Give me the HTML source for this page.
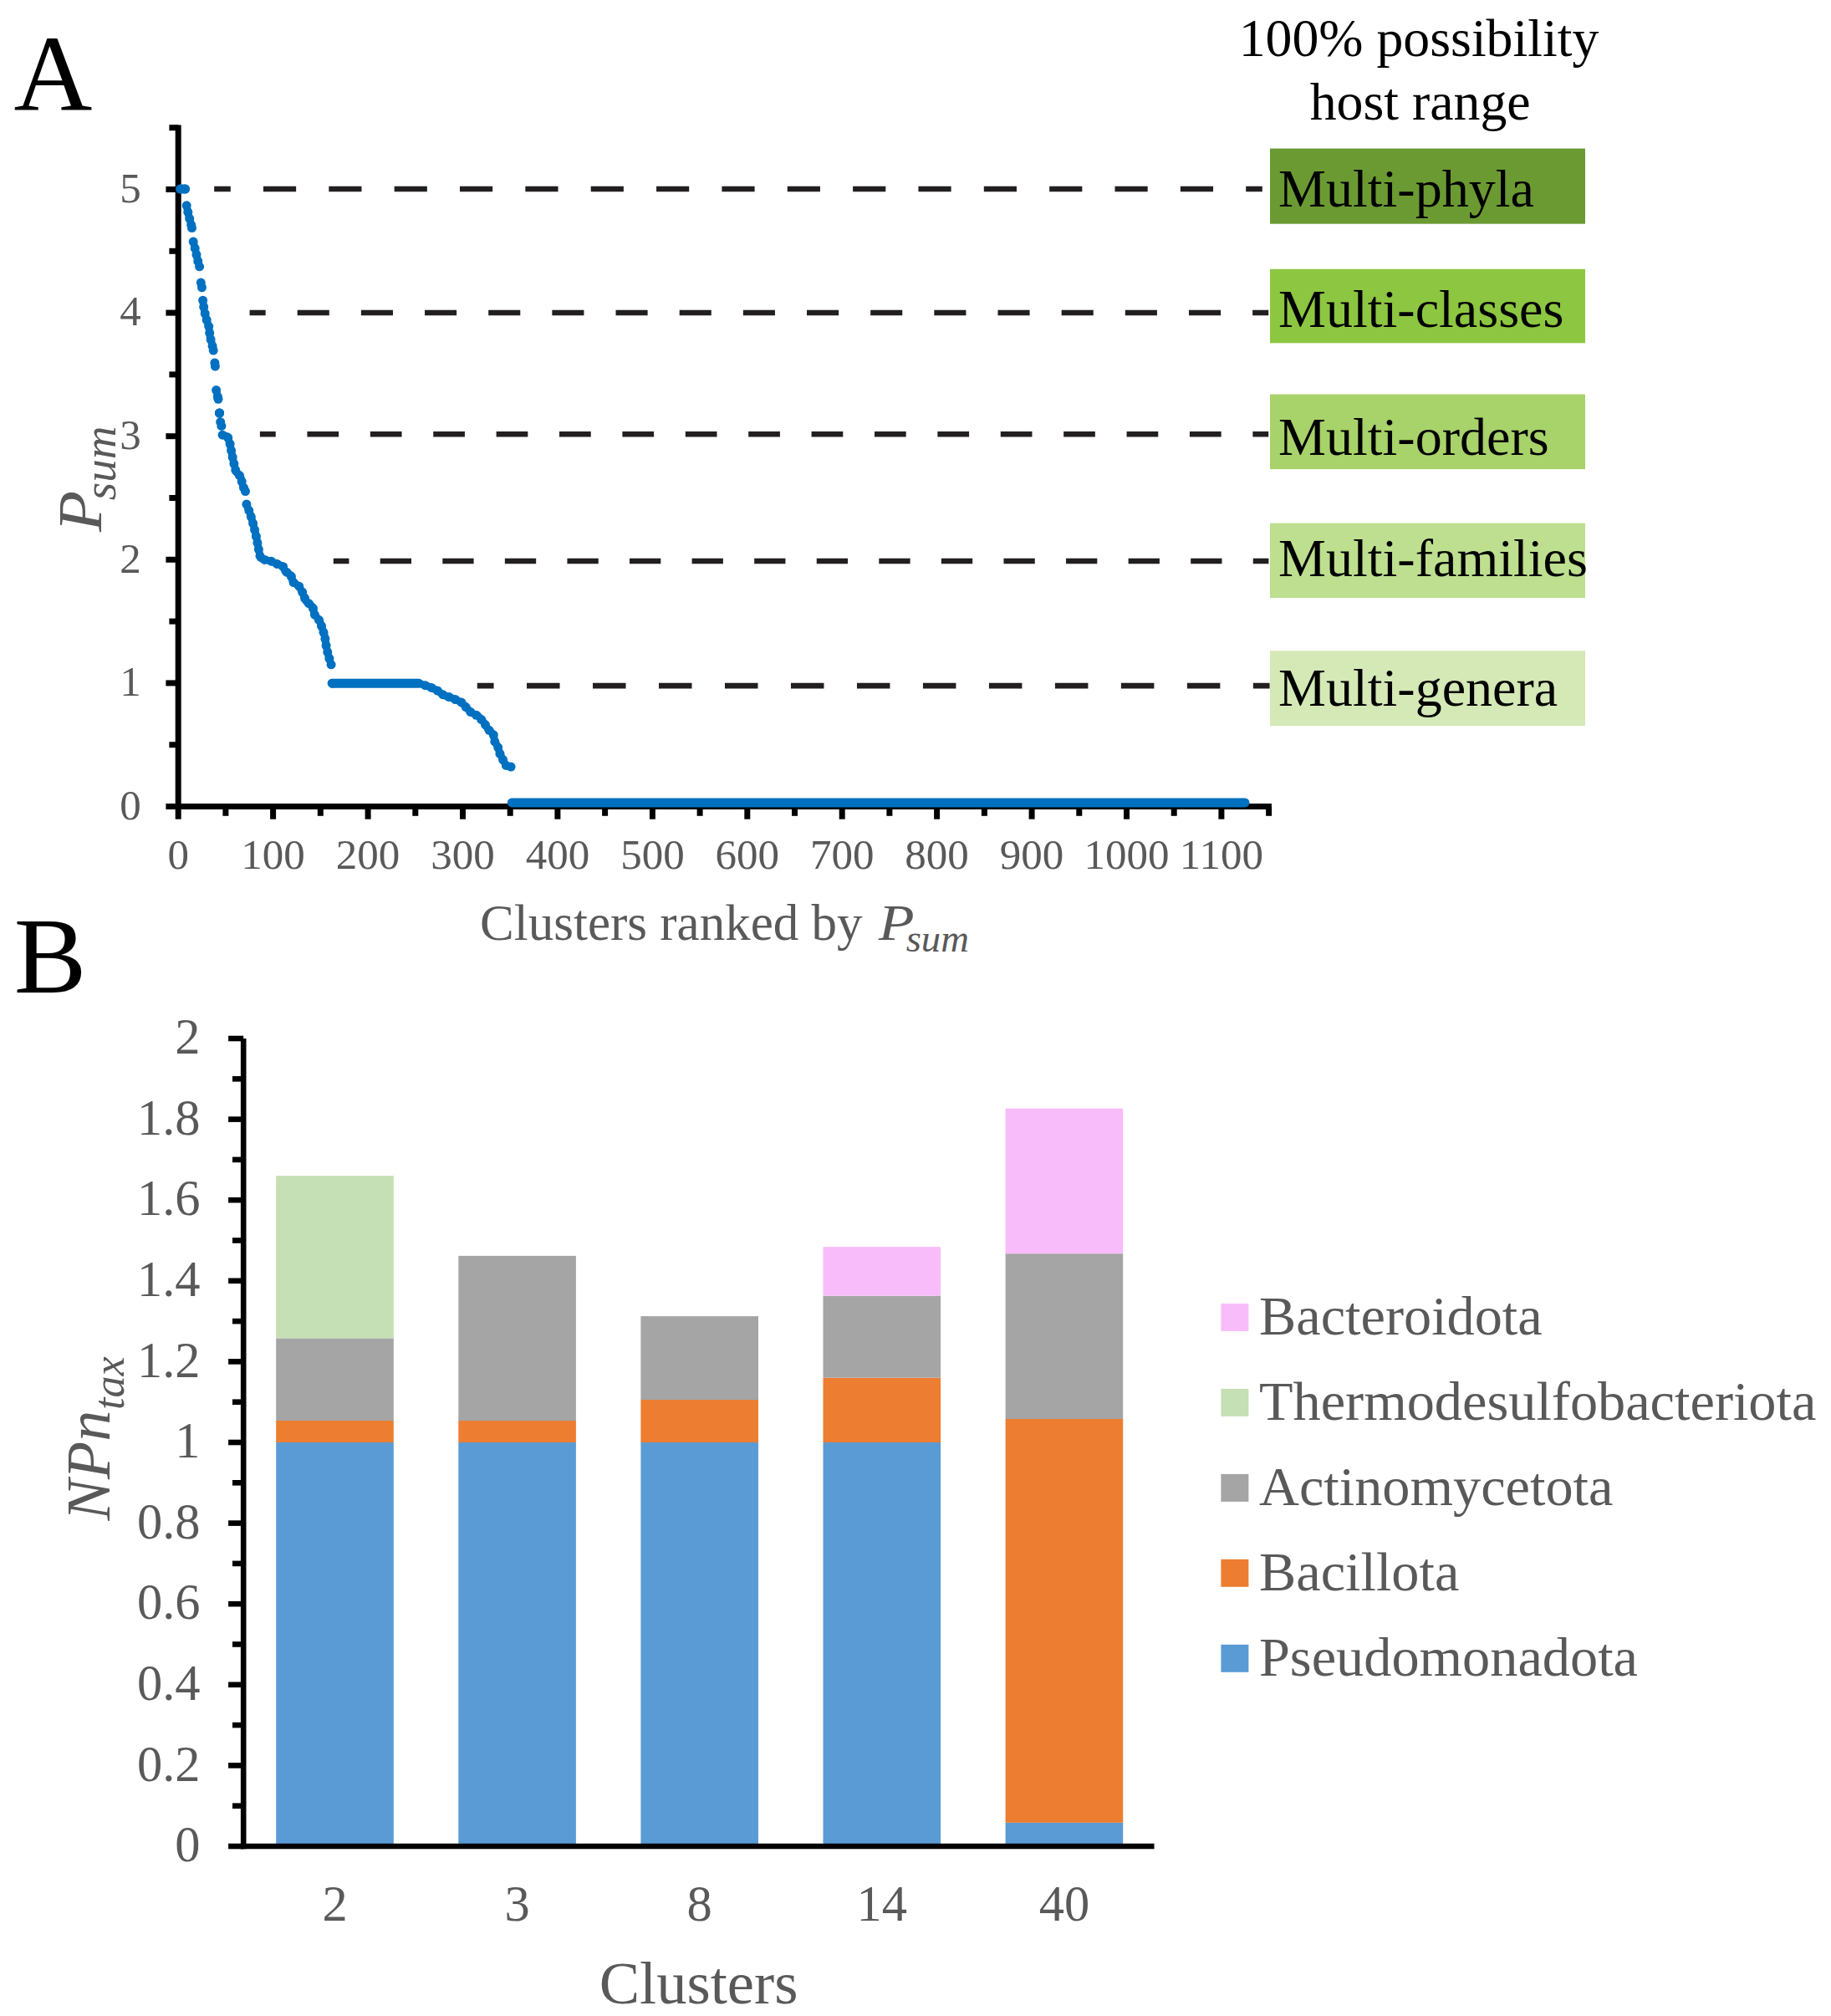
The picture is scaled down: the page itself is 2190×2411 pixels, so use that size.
<!DOCTYPE html>
<html><head><meta charset="utf-8"><title>Figure</title>
<style>
html,body{margin:0;padding:0;background:#fff;}
svg{display:block;}
text{font-family:'Liberation Serif','Times New Roman',serif;}
</style></head>
<body>
<svg width="2190" height="2411" viewBox="0 0 2190 2411">
<rect width="2190" height="2411" fill="#fff"/>
<text x="16.45" y="132.1" font-size="130" fill="#000">A</text>
<line x1="213.2" y1="149.4" x2="213.2" y2="967.8" stroke="#000" stroke-width="7"/>
<line x1="209.9" y1="964.5" x2="1520.9" y2="964.5" stroke="#000" stroke-width="7"/>
<line x1="198.4" y1="964.5" x2="213.2" y2="964.5" stroke="#000" stroke-width="7"/>
<line x1="202.4" y1="890.7" x2="213.2" y2="890.7" stroke="#000" stroke-width="7"/>
<line x1="198.4" y1="816.9" x2="213.2" y2="816.9" stroke="#000" stroke-width="7"/>
<line x1="202.4" y1="743.1" x2="213.2" y2="743.1" stroke="#000" stroke-width="7"/>
<line x1="198.4" y1="669.3" x2="213.2" y2="669.3" stroke="#000" stroke-width="7"/>
<line x1="202.4" y1="595.5" x2="213.2" y2="595.5" stroke="#000" stroke-width="7"/>
<line x1="198.4" y1="521.7" x2="213.2" y2="521.7" stroke="#000" stroke-width="7"/>
<line x1="202.4" y1="447.9" x2="213.2" y2="447.9" stroke="#000" stroke-width="7"/>
<line x1="198.4" y1="374.1" x2="213.2" y2="374.1" stroke="#000" stroke-width="7"/>
<line x1="202.4" y1="300.3" x2="213.2" y2="300.3" stroke="#000" stroke-width="7"/>
<line x1="198.4" y1="226.5" x2="213.2" y2="226.5" stroke="#000" stroke-width="7"/>
<line x1="202.4" y1="152.7" x2="213.2" y2="152.7" stroke="#000" stroke-width="7"/>
<line x1="213.2" y1="964.5" x2="213.2" y2="979.7" stroke="#000" stroke-width="7"/>
<line x1="269.9" y1="964.5" x2="269.9" y2="975.8" stroke="#000" stroke-width="7"/>
<line x1="326.6" y1="964.5" x2="326.6" y2="979.7" stroke="#000" stroke-width="7"/>
<line x1="383.3" y1="964.5" x2="383.3" y2="975.8" stroke="#000" stroke-width="7"/>
<line x1="440.1" y1="964.5" x2="440.1" y2="979.7" stroke="#000" stroke-width="7"/>
<line x1="496.8" y1="964.5" x2="496.8" y2="975.8" stroke="#000" stroke-width="7"/>
<line x1="553.5" y1="964.5" x2="553.5" y2="979.7" stroke="#000" stroke-width="7"/>
<line x1="610.2" y1="964.5" x2="610.2" y2="975.8" stroke="#000" stroke-width="7"/>
<line x1="666.9" y1="964.5" x2="666.9" y2="979.7" stroke="#000" stroke-width="7"/>
<line x1="723.6" y1="964.5" x2="723.6" y2="975.8" stroke="#000" stroke-width="7"/>
<line x1="780.4" y1="964.5" x2="780.4" y2="979.7" stroke="#000" stroke-width="7"/>
<line x1="837.1" y1="964.5" x2="837.1" y2="975.8" stroke="#000" stroke-width="7"/>
<line x1="893.8" y1="964.5" x2="893.8" y2="979.7" stroke="#000" stroke-width="7"/>
<line x1="950.5" y1="964.5" x2="950.5" y2="975.8" stroke="#000" stroke-width="7"/>
<line x1="1007.2" y1="964.5" x2="1007.2" y2="979.7" stroke="#000" stroke-width="7"/>
<line x1="1063.9" y1="964.5" x2="1063.9" y2="975.8" stroke="#000" stroke-width="7"/>
<line x1="1120.6" y1="964.5" x2="1120.6" y2="979.7" stroke="#000" stroke-width="7"/>
<line x1="1177.4" y1="964.5" x2="1177.4" y2="975.8" stroke="#000" stroke-width="7"/>
<line x1="1234.1" y1="964.5" x2="1234.1" y2="979.7" stroke="#000" stroke-width="7"/>
<line x1="1290.8" y1="964.5" x2="1290.8" y2="975.8" stroke="#000" stroke-width="7"/>
<line x1="1347.5" y1="964.5" x2="1347.5" y2="979.7" stroke="#000" stroke-width="7"/>
<line x1="1404.2" y1="964.5" x2="1404.2" y2="975.8" stroke="#000" stroke-width="7"/>
<line x1="1460.9" y1="964.5" x2="1460.9" y2="979.7" stroke="#000" stroke-width="7"/>
<line x1="1517.6" y1="964.5" x2="1517.6" y2="975.8" stroke="#000" stroke-width="7"/>
<text x="168.8" y="979.7" font-size="51" fill="#595959" text-anchor="end">0</text>
<text x="168.8" y="832.1" font-size="51" fill="#595959" text-anchor="end">1</text>
<text x="168.8" y="684.5" font-size="51" fill="#595959" text-anchor="end">2</text>
<text x="168.8" y="536.9" font-size="51" fill="#595959" text-anchor="end">3</text>
<text x="168.8" y="389.3" font-size="51" fill="#595959" text-anchor="end">4</text>
<text x="168.8" y="241.7" font-size="51" fill="#595959" text-anchor="end">5</text>
<text x="213.2" y="1039" font-size="51" fill="#595959" text-anchor="middle">0</text>
<text x="326.6" y="1039" font-size="51" fill="#595959" text-anchor="middle">100</text>
<text x="440.1" y="1039" font-size="51" fill="#595959" text-anchor="middle">200</text>
<text x="553.5" y="1039" font-size="51" fill="#595959" text-anchor="middle">300</text>
<text x="666.9" y="1039" font-size="51" fill="#595959" text-anchor="middle">400</text>
<text x="780.4" y="1039" font-size="51" fill="#595959" text-anchor="middle">500</text>
<text x="893.8" y="1039" font-size="51" fill="#595959" text-anchor="middle">600</text>
<text x="1007.2" y="1039" font-size="51" fill="#595959" text-anchor="middle">700</text>
<text x="1120.6" y="1039" font-size="51" fill="#595959" text-anchor="middle">800</text>
<text x="1234.1" y="1039" font-size="51" fill="#595959" text-anchor="middle">900</text>
<text x="1347.5" y="1039" font-size="51" fill="#595959" text-anchor="middle">1000</text>
<text x="1460.9" y="1039" font-size="51" fill="#595959" text-anchor="middle">1100</text>
<text x="574.1" y="1124" font-size="61" fill="#595959">Clusters ranked by </text>
<text transform="translate(1050.8,1124) scale(1.15,1)" font-size="61" fill="#595959" font-style="italic">P</text>
<text x="1083.7" y="1138" font-size="46.7" fill="#595959" font-style="italic">sum</text>
<text transform="translate(121.4,636) rotate(-90) scale(1.1,1)" font-size="73" fill="#595959" font-style="italic">P</text>
<text transform="translate(137.8,598.2) rotate(-90)" font-size="55" fill="#595959" font-style="italic">sum</text>
<line x1="256.2" y1="226.0" x2="1509.8" y2="226.0" stroke="#231f20" stroke-width="6.6" stroke-dasharray="39.175 39.175" stroke-dashoffset="19.587"/>
<line x1="298.6" y1="374.0" x2="1517.2" y2="374.0" stroke="#231f20" stroke-width="6.6" stroke-dasharray="38.081 38.081" stroke-dashoffset="19.041"/>
<line x1="310.9" y1="519.2" x2="1517.2" y2="519.2" stroke="#231f20" stroke-width="6.6" stroke-dasharray="37.697 37.697" stroke-dashoffset="18.848"/>
<line x1="398.8" y1="671.0" x2="1517.4" y2="671.0" stroke="#231f20" stroke-width="6.6" stroke-dasharray="37.287 37.287" stroke-dashoffset="18.643"/>
<line x1="570.8" y1="820.1" x2="1518.6" y2="820.1" stroke="#231f20" stroke-width="6.6" stroke-dasharray="39.492 39.492" stroke-dashoffset="19.746"/>
<text x="1697" y="66.7" font-size="63.8" fill="#000" text-anchor="middle">100% possibility</text>
<text x="1698.7" y="142.7" font-size="63.8" fill="#000" text-anchor="middle">host range</text>
<rect x="1519" y="177.6" width="377" height="90.1" fill="#6b9a33"/>
<text x="1529.1" y="246.8" font-size="64" fill="#000">Multi-phyla</text>
<rect x="1519" y="321.8" width="377" height="88.5" fill="#8dc641"/>
<text x="1529.1" y="390.8" font-size="64" fill="#000">Multi-classes</text>
<rect x="1519" y="471.6" width="377" height="89.5" fill="#a8d26a"/>
<text x="1529.1" y="544.2" font-size="64" fill="#000">Multi-orders</text>
<rect x="1519" y="625.6" width="377" height="89.5" fill="#bddf8f"/>
<text x="1529.1" y="689.2" font-size="64" fill="#000">Multi-families</text>
<rect x="1519" y="778.3" width="377" height="89.8" fill="#d4e9b6"/>
<text x="1529.1" y="843.6" font-size="64" fill="#000">Multi-genera</text>
<polyline points="215.8,226.1 221.5,226.1" fill="none" stroke="#0070c0" stroke-width="8.8" stroke-linecap="round" stroke-linejoin="round"/>
<line x1="215.8" y1="226.1" x2="221.5" y2="226.1" stroke="#0070c0" stroke-width="11" stroke-linecap="round"/>
<circle cx="215.8" cy="226.1" r="5.5" fill="#0070c0"/>
<circle cx="221.5" cy="226.1" r="5.5" fill="#0070c0"/>
<polyline points="223.2,245.8 225.5,257.2 227.8,265.2 229.5,272.6" fill="none" stroke="#0070c0" stroke-width="8.8" stroke-linecap="round" stroke-linejoin="round"/>
<circle cx="223.2" cy="245.8" r="5.5" fill="#0070c0"/>
<circle cx="224.8" cy="253.6" r="5.5" fill="#0070c0"/>
<circle cx="226.7" cy="261.4" r="5.5" fill="#0070c0"/>
<circle cx="228.7" cy="269.1" r="5.5" fill="#0070c0"/>
<circle cx="229.5" cy="272.6" r="5.5" fill="#0070c0"/>
<polyline points="231.2,289.1 233.5,298.2 236.4,310.8 238.6,318.8" fill="none" stroke="#0070c0" stroke-width="8.8" stroke-linecap="round" stroke-linejoin="round"/>
<circle cx="231.2" cy="289.1" r="5.5" fill="#0070c0"/>
<circle cx="233.2" cy="296.9" r="5.5" fill="#0070c0"/>
<circle cx="235.0" cy="304.6" r="5.5" fill="#0070c0"/>
<circle cx="236.8" cy="312.4" r="5.5" fill="#0070c0"/>
<circle cx="238.6" cy="318.8" r="5.5" fill="#0070c0"/>
<polyline points="240.3,338.1 241.5,343.8" fill="none" stroke="#0070c0" stroke-width="8.8" stroke-linecap="round" stroke-linejoin="round"/>
<circle cx="240.3" cy="338.1" r="5.5" fill="#0070c0"/>
<circle cx="241.5" cy="343.8" r="5.5" fill="#0070c0"/>
<polyline points="242.6,359.2 244.3,371.2 247.3,383.3 249.8,390.6 251.2,403 253.5,411 255.2,419.1" fill="none" stroke="#0070c0" stroke-width="8.8" stroke-linecap="round" stroke-linejoin="round"/>
<circle cx="242.6" cy="359.2" r="5.5" fill="#0070c0"/>
<circle cx="243.7" cy="367.1" r="5.5" fill="#0070c0"/>
<circle cx="245.2" cy="375.0" r="5.5" fill="#0070c0"/>
<circle cx="247.2" cy="382.7" r="5.5" fill="#0070c0"/>
<circle cx="249.7" cy="390.3" r="5.5" fill="#0070c0"/>
<circle cx="250.7" cy="398.2" r="5.5" fill="#0070c0"/>
<circle cx="252.1" cy="406.1" r="5.5" fill="#0070c0"/>
<circle cx="254.1" cy="413.8" r="5.5" fill="#0070c0"/>
<circle cx="255.2" cy="419.1" r="5.5" fill="#0070c0"/>
<polyline points="256.9,433.9 257.4,438" fill="none" stroke="#0070c0" stroke-width="8.8" stroke-linecap="round" stroke-linejoin="round"/>
<circle cx="256.9" cy="433.9" r="5.5" fill="#0070c0"/>
<circle cx="257.4" cy="438.0" r="5.5" fill="#0070c0"/>
<polyline points="258.6,466.6 261,477.3" fill="none" stroke="#0070c0" stroke-width="8.8" stroke-linecap="round" stroke-linejoin="round"/>
<circle cx="258.6" cy="466.6" r="5.5" fill="#0070c0"/>
<circle cx="260.4" cy="474.4" r="5.5" fill="#0070c0"/>
<circle cx="261.0" cy="477.3" r="5.5" fill="#0070c0"/>
<polyline points="262.5,494 262.5,494" fill="none" stroke="#0070c0" stroke-width="8.8" stroke-linecap="round" stroke-linejoin="round"/>
<line x1="262.5" y1="494" x2="262.5" y2="494" stroke="#0070c0" stroke-width="11" stroke-linecap="round"/>
<circle cx="262.5" cy="494.0" r="5.5" fill="#0070c0"/>
<circle cx="262.5" cy="494.0" r="5.5" fill="#0070c0"/>
<polyline points="263.7,504.7 264.9,509.4" fill="none" stroke="#0070c0" stroke-width="8.8" stroke-linecap="round" stroke-linejoin="round"/>
<circle cx="263.7" cy="504.7" r="5.5" fill="#0070c0"/>
<circle cx="264.9" cy="509.4" r="5.5" fill="#0070c0"/>
<polyline points="266.1,520.2 272.1,521.7 275.2,531.3 276.8,540 279.2,551.9 282.4,564.6 287.9,570.2 290.3,580.5 293.5,587.6" fill="none" stroke="#0070c0" stroke-width="8.8" stroke-linecap="round" stroke-linejoin="round"/>
<circle cx="266.1" cy="520.2" r="5.5" fill="#0070c0"/>
<circle cx="272.7" cy="523.4" r="5.5" fill="#0070c0"/>
<circle cx="275.1" cy="531.0" r="5.5" fill="#0070c0"/>
<circle cx="276.6" cy="538.9" r="5.5" fill="#0070c0"/>
<circle cx="278.2" cy="546.7" r="5.5" fill="#0070c0"/>
<circle cx="279.9" cy="554.6" r="5.5" fill="#0070c0"/>
<circle cx="281.8" cy="562.3" r="5.5" fill="#0070c0"/>
<circle cx="286.4" cy="568.6" r="5.5" fill="#0070c0"/>
<circle cx="289.2" cy="575.8" r="5.5" fill="#0070c0"/>
<circle cx="291.6" cy="583.4" r="5.5" fill="#0070c0"/>
<circle cx="293.5" cy="587.6" r="5.5" fill="#0070c0"/>
<polyline points="294.9,603.1 299,613.8 302.6,625.7 305.6,637.6 308,649.5 309.8,659 311.5,667.4 315.7,669.2 324,671 331.2,674.5 338.3,676.9 340.7,682.9 347.9,687.6 350.2,696 357.4,700.7 362.1,709 365.7,718.6 374,725.7 376.4,735.2 382.4,742.4 384.8,749.5 388.3,760.2 390.1,772.1 392.5,782.9 396.1,794.8" fill="none" stroke="#0070c0" stroke-width="8.8" stroke-linecap="round" stroke-linejoin="round"/>
<circle cx="294.9" cy="603.1" r="5.5" fill="#0070c0"/>
<circle cx="297.8" cy="610.6" r="5.5" fill="#0070c0"/>
<circle cx="300.3" cy="618.1" r="5.5" fill="#0070c0"/>
<circle cx="302.6" cy="625.8" r="5.5" fill="#0070c0"/>
<circle cx="304.6" cy="633.6" r="5.5" fill="#0070c0"/>
<circle cx="306.4" cy="641.4" r="5.5" fill="#0070c0"/>
<circle cx="307.9" cy="649.2" r="5.5" fill="#0070c0"/>
<circle cx="309.4" cy="657.1" r="5.5" fill="#0070c0"/>
<circle cx="311.0" cy="664.9" r="5.5" fill="#0070c0"/>
<circle cx="316.6" cy="669.4" r="5.5" fill="#0070c0"/>
<circle cx="324.4" cy="671.2" r="5.5" fill="#0070c0"/>
<circle cx="331.6" cy="674.6" r="5.5" fill="#0070c0"/>
<circle cx="338.6" cy="677.7" r="5.5" fill="#0070c0"/>
<circle cx="342.7" cy="684.2" r="5.5" fill="#0070c0"/>
<circle cx="348.4" cy="689.4" r="5.5" fill="#0070c0"/>
<circle cx="351.1" cy="696.6" r="5.5" fill="#0070c0"/>
<circle cx="357.7" cy="701.2" r="5.5" fill="#0070c0"/>
<circle cx="361.6" cy="708.1" r="5.5" fill="#0070c0"/>
<circle cx="364.6" cy="715.5" r="5.5" fill="#0070c0"/>
<circle cx="369.3" cy="721.7" r="5.5" fill="#0070c0"/>
<circle cx="374.4" cy="727.5" r="5.5" fill="#0070c0"/>
<circle cx="376.4" cy="735.2" r="5.5" fill="#0070c0"/>
<circle cx="381.5" cy="741.4" r="5.5" fill="#0070c0"/>
<circle cx="384.5" cy="748.7" r="5.5" fill="#0070c0"/>
<circle cx="387.0" cy="756.3" r="5.5" fill="#0070c0"/>
<circle cx="388.9" cy="764.0" r="5.5" fill="#0070c0"/>
<circle cx="390.1" cy="772.0" r="5.5" fill="#0070c0"/>
<circle cx="391.8" cy="779.8" r="5.5" fill="#0070c0"/>
<circle cx="393.9" cy="787.5" r="5.5" fill="#0070c0"/>
<circle cx="396.1" cy="794.8" r="5.5" fill="#0070c0"/>
<polyline points="397.3,817.2 501,817.2 515,821.8 523.7,826.2 530.7,831.5 541.2,835 552.5,840.2 558.6,847.2 563.9,852.4 572.6,856.8 578.7,863.8 584,872.5 590.1,877.8 591.9,887.4 595.3,892.6 598,901.4 601.5,908.4 605,915.3 611.1,917.1" fill="none" stroke="#0070c0" stroke-width="8.8" stroke-linecap="round" stroke-linejoin="round"/>
<line x1="397.3" y1="817.2" x2="501" y2="817.2" stroke="#0070c0" stroke-width="11" stroke-linecap="round"/>
<circle cx="397.3" cy="817.2" r="5.5" fill="#0070c0"/>
<circle cx="508.6" cy="819.7" r="5.5" fill="#0070c0"/>
<circle cx="516.1" cy="822.4" r="5.5" fill="#0070c0"/>
<circle cx="523.3" cy="826.0" r="5.5" fill="#0070c0"/>
<circle cx="529.7" cy="830.7" r="5.5" fill="#0070c0"/>
<circle cx="537.1" cy="833.6" r="5.5" fill="#0070c0"/>
<circle cx="544.5" cy="836.5" r="5.5" fill="#0070c0"/>
<circle cx="551.8" cy="839.9" r="5.5" fill="#0070c0"/>
<circle cx="557.2" cy="845.6" r="5.5" fill="#0070c0"/>
<circle cx="562.8" cy="851.4" r="5.5" fill="#0070c0"/>
<circle cx="569.7" cy="855.3" r="5.5" fill="#0070c0"/>
<circle cx="575.7" cy="860.4" r="5.5" fill="#0070c0"/>
<circle cx="580.5" cy="866.8" r="5.5" fill="#0070c0"/>
<circle cx="585.0" cy="873.3" r="5.5" fill="#0070c0"/>
<circle cx="590.3" cy="879.0" r="5.5" fill="#0070c0"/>
<circle cx="591.8" cy="886.9" r="5.5" fill="#0070c0"/>
<circle cx="595.7" cy="893.8" r="5.5" fill="#0070c0"/>
<circle cx="598.0" cy="901.4" r="5.5" fill="#0070c0"/>
<circle cx="601.6" cy="908.6" r="5.5" fill="#0070c0"/>
<circle cx="605.4" cy="915.4" r="5.5" fill="#0070c0"/>
<circle cx="611.1" cy="917.1" r="5.5" fill="#0070c0"/>
<polyline points="612.3,959.9 1489,959.9" fill="none" stroke="#0070c0" stroke-width="11" stroke-linecap="round" stroke-linejoin="round"/>
<text x="16.7" y="1187" font-size="130" fill="#000">B</text>
<rect x="330.2" y="1725.0" width="140.6" height="483.0" fill="#5b9bd5"/>
<rect x="330.2" y="1699.0" width="140.6" height="26.0" fill="#ed7d31"/>
<rect x="330.2" y="1600.4" width="140.6" height="98.6" fill="#a5a5a5"/>
<rect x="330.2" y="1406.2" width="140.6" height="194.2" fill="#c5e0b4"/>
<rect x="548.3" y="1725.0" width="140.6" height="483.0" fill="#5b9bd5"/>
<rect x="548.3" y="1699.0" width="140.6" height="26.0" fill="#ed7d31"/>
<rect x="548.3" y="1501.9" width="140.6" height="197.2" fill="#a5a5a5"/>
<rect x="766.4" y="1725.0" width="140.6" height="483.0" fill="#5b9bd5"/>
<rect x="766.4" y="1674.0" width="140.6" height="51.0" fill="#ed7d31"/>
<rect x="766.4" y="1574.1" width="140.6" height="100.0" fill="#a5a5a5"/>
<rect x="984.5" y="1725.0" width="140.6" height="483.0" fill="#5b9bd5"/>
<rect x="984.5" y="1647.7" width="140.6" height="77.3" fill="#ed7d31"/>
<rect x="984.5" y="1549.7" width="140.6" height="98.0" fill="#a5a5a5"/>
<rect x="984.5" y="1491.2" width="140.6" height="58.4" fill="#f9bcfb"/>
<rect x="1202.6" y="2179.7" width="140.6" height="28.3" fill="#5b9bd5"/>
<rect x="1202.6" y="1697.0" width="140.6" height="482.8" fill="#ed7d31"/>
<rect x="1202.6" y="1499.2" width="140.6" height="197.8" fill="#a5a5a5"/>
<rect x="1202.6" y="1325.6" width="140.6" height="173.6" fill="#f9bcfb"/>
<line x1="291.2" y1="1242" x2="291.2" y2="2211.3" stroke="#000" stroke-width="6.6"/>
<line x1="287.9" y1="2208" x2="1380.5" y2="2208" stroke="#000" stroke-width="6.6"/>
<line x1="273.1" y1="2208.0" x2="291.2" y2="2208.0" stroke="#000" stroke-width="6.6"/>
<line x1="278" y1="2159.7" x2="291.2" y2="2159.7" stroke="#000" stroke-width="6.6"/>
<line x1="273.1" y1="2111.4" x2="291.2" y2="2111.4" stroke="#000" stroke-width="6.6"/>
<line x1="278" y1="2063.1" x2="291.2" y2="2063.1" stroke="#000" stroke-width="6.6"/>
<line x1="273.1" y1="2014.8" x2="291.2" y2="2014.8" stroke="#000" stroke-width="6.6"/>
<line x1="278" y1="1966.5" x2="291.2" y2="1966.5" stroke="#000" stroke-width="6.6"/>
<line x1="273.1" y1="1918.2" x2="291.2" y2="1918.2" stroke="#000" stroke-width="6.6"/>
<line x1="278" y1="1869.9" x2="291.2" y2="1869.9" stroke="#000" stroke-width="6.6"/>
<line x1="273.1" y1="1821.6" x2="291.2" y2="1821.6" stroke="#000" stroke-width="6.6"/>
<line x1="278" y1="1773.3" x2="291.2" y2="1773.3" stroke="#000" stroke-width="6.6"/>
<line x1="273.1" y1="1725.0" x2="291.2" y2="1725.0" stroke="#000" stroke-width="6.6"/>
<line x1="278" y1="1676.7" x2="291.2" y2="1676.7" stroke="#000" stroke-width="6.6"/>
<line x1="273.1" y1="1628.4" x2="291.2" y2="1628.4" stroke="#000" stroke-width="6.6"/>
<line x1="278" y1="1580.1" x2="291.2" y2="1580.1" stroke="#000" stroke-width="6.6"/>
<line x1="273.1" y1="1531.8" x2="291.2" y2="1531.8" stroke="#000" stroke-width="6.6"/>
<line x1="278" y1="1483.5" x2="291.2" y2="1483.5" stroke="#000" stroke-width="6.6"/>
<line x1="273.1" y1="1435.2" x2="291.2" y2="1435.2" stroke="#000" stroke-width="6.6"/>
<line x1="278" y1="1386.9" x2="291.2" y2="1386.9" stroke="#000" stroke-width="6.6"/>
<line x1="273.1" y1="1338.6" x2="291.2" y2="1338.6" stroke="#000" stroke-width="6.6"/>
<line x1="278" y1="1290.3" x2="291.2" y2="1290.3" stroke="#000" stroke-width="6.6"/>
<line x1="273.1" y1="1242.0" x2="291.2" y2="1242.0" stroke="#000" stroke-width="6.6"/>
<text x="239.6" y="2226.2" font-size="60.5" fill="#595959" text-anchor="end">0</text>
<text x="239.6" y="2129.6" font-size="60.5" fill="#595959" text-anchor="end">0.2</text>
<text x="239.6" y="2033.0" font-size="60.5" fill="#595959" text-anchor="end">0.4</text>
<text x="239.6" y="1936.4" font-size="60.5" fill="#595959" text-anchor="end">0.6</text>
<text x="239.6" y="1839.8" font-size="60.5" fill="#595959" text-anchor="end">0.8</text>
<text x="239.6" y="1743.2" font-size="60.5" fill="#595959" text-anchor="end">1</text>
<text x="239.6" y="1646.6" font-size="60.5" fill="#595959" text-anchor="end">1.2</text>
<text x="239.6" y="1550.0" font-size="60.5" fill="#595959" text-anchor="end">1.4</text>
<text x="239.6" y="1453.4" font-size="60.5" fill="#595959" text-anchor="end">1.6</text>
<text x="239.6" y="1356.8" font-size="60.5" fill="#595959" text-anchor="end">1.8</text>
<text x="239.6" y="1260.2" font-size="60.5" fill="#595959" text-anchor="end">2</text>
<text x="400.5" y="2297.2" font-size="60.5" fill="#595959" text-anchor="middle">2</text>
<text x="618.6" y="2297.2" font-size="60.5" fill="#595959" text-anchor="middle">3</text>
<text x="836.7" y="2297.2" font-size="60.5" fill="#595959" text-anchor="middle">8</text>
<text x="1054.8" y="2297.2" font-size="60.5" fill="#595959" text-anchor="middle">14</text>
<text x="1272.9" y="2297.2" font-size="60.5" fill="#595959" text-anchor="middle">40</text>
<text x="835.6" y="2396" font-size="72.5" fill="#595959" text-anchor="middle">Clusters</text>
<text transform="translate(130.9,1818.4) rotate(-90)" font-size="74" fill="#595959" font-style="italic">NPn</text>
<text transform="translate(148.3,1686) rotate(-90)" font-size="52" fill="#595959" font-style="italic">tax</text>
<rect x="1460.4" y="1558.9" width="33" height="33" fill="#f9bcfb"/>
<text x="1506" y="1595.9" font-size="66.3" fill="#595959">Bacteroidota</text>
<rect x="1460.4" y="1660.9" width="33" height="33" fill="#c5e0b4"/>
<text x="1506" y="1697.9" font-size="66.3" fill="#595959">Thermodesulfobacteriota</text>
<rect x="1460.4" y="1762.9" width="33" height="33" fill="#a5a5a5"/>
<text x="1506" y="1799.9" font-size="66.3" fill="#595959">Actinomycetota</text>
<rect x="1460.4" y="1864.8" width="33" height="33" fill="#ed7d31"/>
<text x="1506" y="1901.8" font-size="66.3" fill="#595959">Bacillota</text>
<rect x="1460.4" y="1966.8" width="33" height="33" fill="#5b9bd5"/>
<text x="1506" y="2003.8" font-size="66.3" fill="#595959">Pseudomonadota</text>
</svg>
</body></html>
